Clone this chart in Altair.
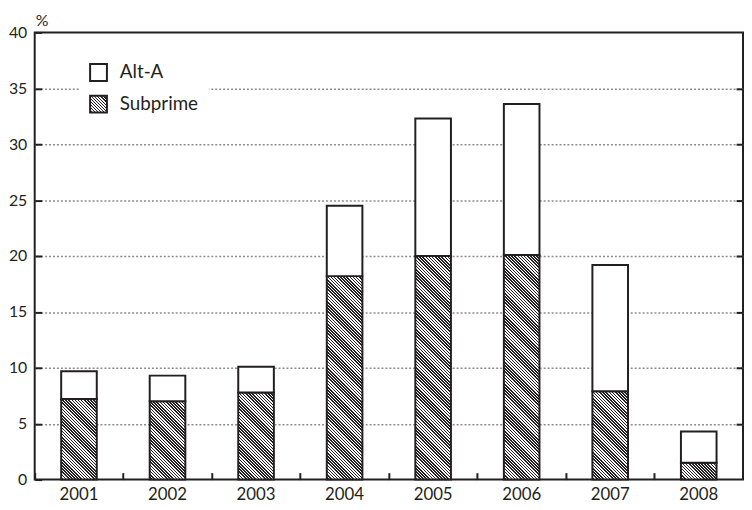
import json
import math
import altair as alt
import pandas as pd

years = ["2001", "2002", "2003", "2004", "2005", "2006", "2007", "2008"]
subprime = [7.2, 7.0, 7.8, 18.2, 20.0, 20.1, 7.9, 1.5]
alt_a = [2.5, 2.3, 2.3, 6.3, 12.3, 13.5, 11.3, 2.8]
series = ["Alt-A", "Subprime"]
stack_order = {"Subprime": 0, "Alt-A": 1}
y_ticks = [0, 5, 10, 15, 20, 25, 30, 35, 40]
grid_ticks = [5, 10, 15, 20, 25, 30, 35]

W, H = 716, 452
YMAX = 40
BAR = 36
INK = "#231f20"
FONT = "Lato"
PERIOD = 2.25
SYM = 17
TICK = 7


def hatch(w, h):
    """Diagonal (\\) hatch as a linear gradient in objectBoundingBox units."""
    r = h / w
    t = (1 + r) / (1 + r * r)
    n = max(2, round((w + h) / math.sqrt(2) / PERIOD))
    stops = []
    for k in range(n):
        a, b, c = k / n, (k + 0.5) / n, (k + 1) / n
        stops += [
            {"offset": round(a, 5), "color": "white"},
            {"offset": round(b, 5), "color": "white"},
            {"offset": round(b, 5), "color": INK},
            {"offset": round(c, 5), "color": INK},
        ]
    return {"gradient": "linear", "x1": 0, "y1": 1, "x2": round(t, 5),
            "y2": round(1 - t * r, 5), "stops": stops}


rows = []
for y, s, a in zip(years, subprime, alt_a):
    rows.append({"year": y, "series": "Subprime", "value": s, "ord": stack_order["Subprime"]})
    rows.append({"year": y, "series": "Alt-A", "value": a, "ord": stack_order["Alt-A"]})
df = pd.DataFrame(rows)

conditions = [
    {"test": f"datum.year === '{y}' && datum.series === 'Subprime'",
     "value": hatch(BAR, s * H / YMAX)}
    for y, s in zip(years, subprime)
]

yscale = alt.Scale(domain=[0, YMAX], nice=False, zero=True)
xscale = alt.Scale(domain=years, paddingInner=0, paddingOuter=0)

legend_hatch = {"expr": json.dumps(hatch(SYM, SYM))}

legend = alt.Legend(
    title=None,
    orient="none",
    legendX=45,
    legendY=21,
    padding=10,
    fillColor="white",
    symbolType="square",
    symbolSize=SYM * SYM,
    symbolStrokeWidth=2,
    symbolStrokeColor=INK,
    labelFont=FONT,
    labelFontSize=19,
    labelColor=INK,
    labelOffset=12,
    rowPadding=7,
)

bars = alt.Chart(df).mark_bar(size=BAR, stroke=INK, strokeWidth=2).encode(
    x=alt.X("year:O", scale=xscale, sort=years,
            axis=alt.Axis(orient="bottom", title=None, labelAngle=0, ticks=False,
                          labelPadding=7, labelFontSize=17, domain=False, grid=False)),
    y=alt.Y("value:Q", stack="zero", scale=yscale,
            axis=alt.Axis(values=y_ticks, ticks=True, tickSize=TICK, offset=-TICK,
                          labelPadding=8, labelFontSize=16, domain=False, grid=False,
                          title="%", titleAngle=0, titleX=0, titleY=-12, titleAlign="center",
                          titleBaseline="middle", titleFont=FONT, titleFontSize=16,
                          titleFontWeight="normal", titleColor=INK)),
    fill=alt.Fill("series:N", scale=alt.Scale(domain=series, range=["white", legend_hatch]),
                  legend=legend, condition=conditions),
    order=alt.Order("ord:Q"),
)

right = alt.Chart(df).mark_point(opacity=0).encode(
    x=alt.X("year:O", scale=xscale, sort=years,
            axis=alt.Axis(orient="bottom", title=None, labels=False, ticks=True,
                          tickSize=TICK, offset=-TICK, bandPosition=0, domain=False,
                          grid=False)),
    y=alt.Y("value:Q", scale=yscale,
            axis=alt.Axis(orient="right", values=grid_ticks, ticks=True, tickSize=TICK,
                          offset=-TICK, labels=False, domain=False, grid=True,
                          gridDash=[2, 2], gridColor="#8c8c8c", gridWidth=1.5, title=None)),
)

chart = (
    alt.layer(right, bars)
    .resolve_axis(y="independent", x="independent")
    .properties(
        width=W,
        height=H,
        autosize=alt.AutoSizeParams(type="none"),
        padding={"left": 27, "top": 22, "right": 1, "bottom": 24},
    )
    .configure_view(stroke=INK, strokeWidth=2)
    .configure_axis(labelFont=FONT, labelColor=INK, tickColor=INK, tickWidth=2)
)

chart.save("out.html", embed_options={"renderer": "svg", "actions": False})
